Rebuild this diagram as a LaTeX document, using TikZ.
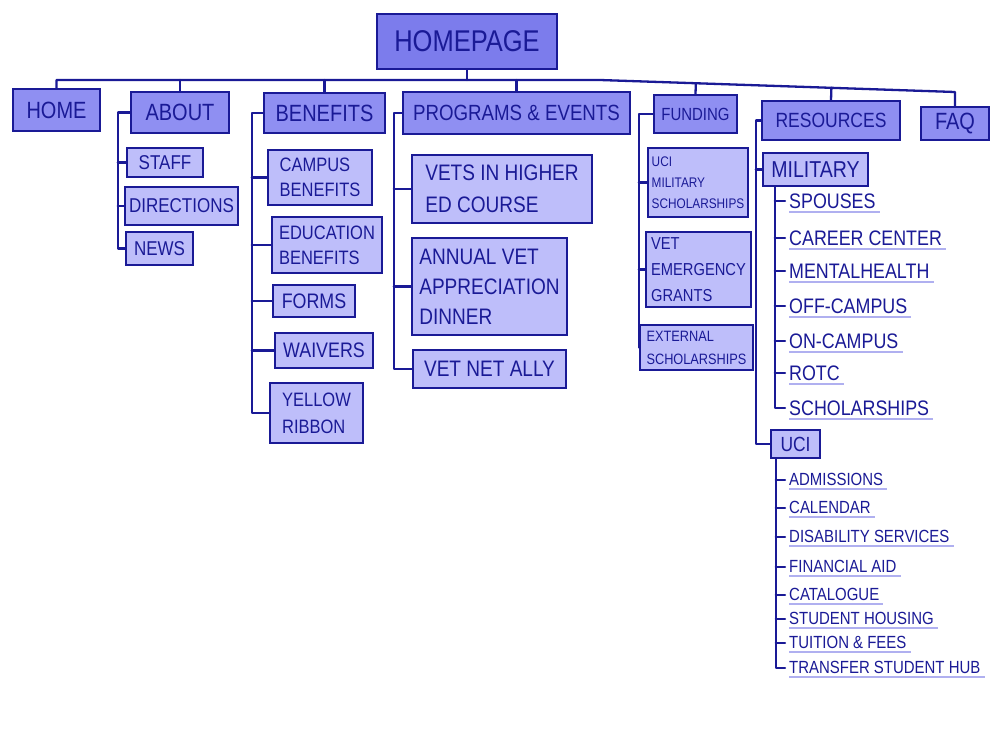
\documentclass[tikz,border=0pt]{standalone}
\usepackage{fontspec}
\newfontfamily\hand[FakeStretch=0.85]{Liberation Sans}
\usetikzlibrary{calc}
\newcommand{\hs}[2]{\hand\fontsize{#1}{#2}\selectfont}
\definecolor{ink}{RGB}{26,26,150}
\definecolor{topfill}{RGB}{124,124,236}
\definecolor{secfill}{RGB}{143,143,242}
\definecolor{subfill}{RGB}{190,190,250}
\definecolor{uline}{RGB}{176,176,240}
\tikzset{
    wire/.style={ink, line width=2.3pt, line cap=round, line join=round},
    navbox/.style={draw=ink, line width=2.3pt, text=ink, align=left, inner sep=2pt},
    topbox/.style={navbox, fill=topfill, font=\hs{30}{34}},
    secbox/.style={navbox, fill=secfill, font=\hs{23.5}{27}},
    subbox/.style={navbox, fill=subfill},
    dim/.style 2 args={minimum width=#1pt, minimum height=#2pt},
    leaf/.style={text=ink, anchor=west, inner xsep=4pt, inner ysep=3pt, text height=15pt, text depth=1pt, font=\hs{21}{24}},
    smallleaf/.style={leaf, inner ysep=2pt, text height=12.6pt, font=\hs{17.6}{20}},
    underl/.style={uline, line width=1.6pt}
}

\begin{document}
\begin{tikzpicture}[x=1pt, y=-1pt]
    \useasboundingbox[fill=white](0, 0)rectangle(1000, 750);
    \node[topbox, dim={180}{55}](homepage)at(467, 41.5){HOMEPAGE};

    \node[secbox, dim={87}{42}](home)at(56.5, 110){HOME};
    \node[secbox, dim={98}{41}](about)at(180, 112.5){ABOUT};
    \node[secbox, dim={121}{40}](benefits)at(324.5, 113){BENEFITS};
    \node[secbox, dim={227}{42}, font=\hs{22}{26}](programs)at(516.5, 113){PROGRAMS \& EVENTS};
    \node[secbox, dim={83}{38}, font=\hs{17.6}{21}](funding)at(695.5, 114){FUNDING};
    \node[secbox, dim={138}{39}, font=\hs{20.6}{24}](resources)at(831, 120.5){RESOURCES};
    \node[secbox, dim={68}{33}](faq)at(955, 123.5){FAQ};

    \node[subbox, dim={76}{29}, font=\hs{20}{24}](staff)at(165, 162.5){STAFF};
    \node[subbox, dim={113}{38}, font=\hs{20}{24}](directions)at(181.5, 206){DIRECTIONS};
    \node[subbox, dim={67}{33}, font=\hs{20}{24}](news)at(159.5, 248.5){NEWS};

    \node[subbox, dim={104}{55}, font=\hs{19.4}{25}](campus)at(320, 177.5){CAMPUS\\BENEFITS};
    \node[subbox, dim={110}{56}, font=\hs{19.4}{25}](education)at(327, 245){EDUCATION\\BENEFITS};
    \node[subbox, dim={82}{32}, font=\hs{21}{24}](forms)at(314, 301){FORMS};
    \node[subbox, dim={98}{35}, font=\hs{21}{24}](waivers)at(324, 350.5){WAIVERS};
    \node[subbox, dim={93}{60}, font=\hs{19.4}{27}](yellow)at(316.5, 413){YELLOW\\RIBBON};

    \node[subbox, dim={180}{68}, font=\hs{22.4}{32}](vets)at(502, 189){VETS IN HIGHER\\ED COURSE};
    \node[subbox, dim={155}{97}, font=\hs{22.4}{30}](annual)at(489.5, 286.5){ANNUAL VET\\APPRECIATION\\DINNER};
    \node[subbox, dim={153}{38}, font=\hs{22.4}{26}](ally)at(489.5, 369){VET NET ALLY};

    \node[subbox, dim={100}{69}, font=\hs{13.9}{21}](ucimil)at(698, 182.5){UCI\\MILITARY\\SCHOLARSHIPS};
    \node[subbox, dim={105}{75}, font=\hs{17.3}{26}](emergency)at(698.5, 269.5){VET\\EMERGENCY\\GRANTS};
    \node[subbox, dim={113}{45}, font=\hs{15}{23}](external)at(696.5, 347.5){EXTERNAL\\SCHOLARSHIPS};

    \node[subbox, dim={105}{33}, font=\hs{23}{26}](military)at(815.5, 169.5){MILITARY};
    \node[subbox, dim={49}{28}, font=\hs{20.5}{24}](uci)at(795.5, 444){UCI};

    \node[leaf](spouses)at(785, 201){SPOUSES};
    \node[leaf](career)at(785, 238){CAREER CENTER};
    \node[leaf](mental)at(785, 271){MENTALHEALTH};
    \node[leaf](offcampus)at(785, 306){OFF-CAMPUS};
    \node[leaf](oncampus)at(785, 341){ON-CAMPUS};
    \node[leaf](rotc)at(785, 373){ROTC};
    \node[leaf](milschol)at(785, 408){SCHOLARSHIPS};

    \node[smallleaf](admissions)at(785, 480){ADMISSIONS};
    \node[smallleaf](calendar)at(785, 508){CALENDAR};
    \node[smallleaf](disability)at(785, 537){DISABILITY SERVICES};
    \node[smallleaf](finaid)at(785, 567){FINANCIAL AID};
    \node[smallleaf](catalogue)at(785, 595){CATALOGUE};
    \node[smallleaf](housing)at(785, 619){STUDENT HOUSING};
    \node[smallleaf](tuition)at(785, 643){TUITION \& FEES};
    \node[smallleaf](transfer)at(785, 668){TRANSFER STUDENT HUB};

    \coordinate(busL)at(58, 80);
    \coordinate(busM)at(600, 80);
    \coordinate(busR)at(955, 92);
    \draw[wire](home.north)--(home.north |- busL)--(busM)--(busR)--(faq.north);
    \foreach \n in {homepage.south, about.north, benefits.north, programs.north}
        \draw[wire](\n)--(\n |- busL);
    \foreach \n in {funding, resources}
        \draw[wire](\n.north)--($(busM)!(\n.north)!(busR)$);

    \draw[wire](about.west)--++(-12, 0)coordinate(aboutL)|-(news.west);
    \foreach \n in {staff, directions}
        \draw[wire](aboutL |- \n.west)--(\n.west);
    \draw[wire](benefits.west)--++(-11, 0)coordinate(benefitsL)|-(yellow.west);
    \foreach \n in {campus, education, forms, waivers}
        \draw[wire](benefitsL |- \n.west)--(\n.west);
    \draw[wire](programs.west)--++(-8, 0)coordinate(programsL)|-(ally.west);
    \foreach \n in {vets, annual}
        \draw[wire](programsL |- \n.west)--(\n.west);
    \draw[wire](funding.west)--++(-14, 0)coordinate(fundingL)|-(external.west);
    \foreach \n in {ucimil, emergency}
        \draw[wire](fundingL |- \n.west)--(\n.west);
    \draw[wire](resources.west)--++(-5, 0)coordinate(resourcesL)|-(uci.west);
    \draw[wire](resourcesL |- military.west)--(military.west);

    \coordinate(militaryL)at($(military.south west)+(13, 0)$);
    \draw[wire](militaryL)|-(milschol.west);
    \foreach \n in {spouses, career, mental, offcampus, oncampus, rotc}
        \draw[wire](militaryL |- \n.west)--(\n.west);
    \coordinate(uciL)at($(uci.south west)+(6, 0)$);
    \draw[wire](uciL)|-(transfer.west);
    \foreach \n in {admissions, calendar, disability, finaid, catalogue, housing, tuition}
        \draw[wire](uciL |- \n.west)--(\n.west);

    \foreach \n in {spouses, career, mental, offcampus, oncampus, rotc, milschol,
                    admissions, calendar, disability, finaid, catalogue, housing, tuition, transfer}
        \draw[underl]([xshift=4pt]\n.south west)--(\n.south east);
\end{tikzpicture}
\end{document}
